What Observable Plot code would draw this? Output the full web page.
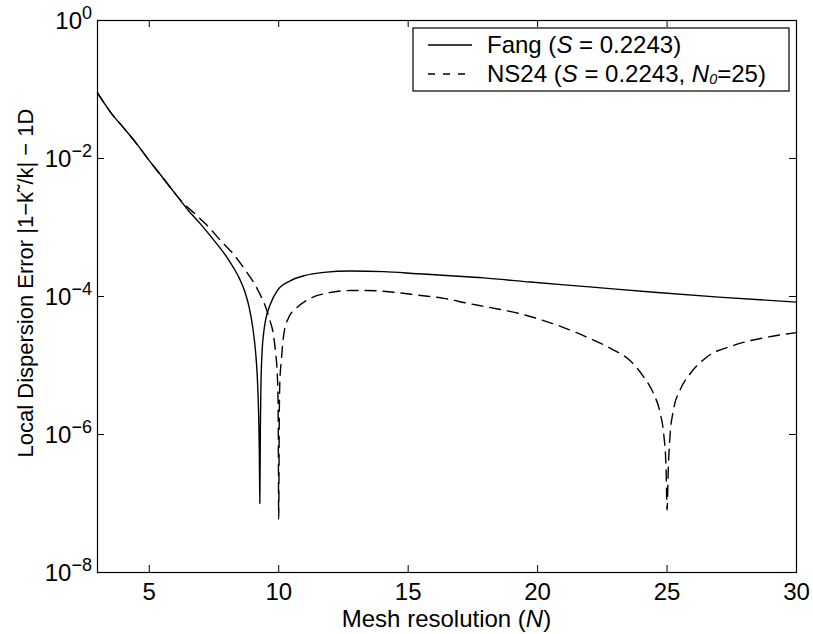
<!DOCTYPE html>
<html><head><meta charset="utf-8">
<script src="https://cdn.jsdelivr.net/npm/d3@7"></script>
<script src="https://cdn.jsdelivr.net/npm/@observablehq/plot@0.6"></script>
<style>
body{margin:0;background:#fff}
#chart svg{font-family:"Liberation Sans",Arial,Helvetica,sans-serif}
</style>
</head><body><div id="chart"></div>
<script>
// Fang (S = 0.2243)
const fangN = [3, 3.5, 4, 4.5, 5, 5.5, 6, 6.5, 7, 7.5, 8, 8.25, 8.5, 8.7, 8.85, 9.0, 9.1, 9.17, 9.22, 9.25, 9.27, 9.29, 9.31, 9.36, 9.42, 9.49, 9.68, 9.95, 10.46, 10.97, 11.74, 12.77, 14.06, 15.35, 16.63, 17.92, 19.72, 22, 24.5, 27, 30];
const fangErr = [0.089, 0.047, 0.028, 0.0166, 0.0093, 0.0054, 0.0031, 0.00178, 0.0011, 6.5e-4, 3.7e-4, 2.63e-4, 1.77e-4, 1.15e-4, 7.2e-5, 3.5e-5, 1.66e-5, 7.2e-6, 2.2e-6, 5.9e-7, 1.0e-7, 1.15e-6, 4.4e-6, 1.66e-5, 3.0e-5, 4.5e-5, 7.8e-5, 1.23e-4, 1.70e-4, 2.0e-4, 2.24e-4, 2.34e-4, 2.29e-4, 2.14e-4, 2.0e-4, 1.86e-4, 1.62e-4, 1.38e-4, 1.15e-4, 9.8e-5, 8.3e-5];
// NS24 (S = 0.2243, N0 = 25)
const nsN = [3, 3.5, 4, 4.5, 5, 5.5, 6, 6.27, 6.79, 7.31, 7.75, 8.23, 8.68, 9.17, 9.49, 9.66, 9.81, 9.87, 9.96, 9.98, 10.0, 10.02, 10.04, 10.10, 10.2, 10.39, 10.65, 11.1, 11.87, 12.77, 13.42, 14.45, 15.35, 16.38, 17.28, 18.18, 19.34, 20.62, 21.91, 22.8, 23.58, 24.1, 24.48, 24.74, 24.87, 24.96, 25.0, 25.05, 25.12, 25.24, 25.5, 25.89, 26.53, 27.56, 28.85, 30];
const nsErr = [0.089, 0.047, 0.028, 0.0166, 0.0093, 0.0054, 0.0031, 0.00234, 0.00155, 0.0010, 6.5e-4, 4.2e-4, 2.5e-4, 1.29e-4, 7.1e-5, 4.5e-5, 2.57e-5, 1.66e-5, 5.4e-6, 1.78e-6, 6e-8, 1.5e-6, 5.4e-6, 1.17e-5, 2.9e-5, 5.0e-5, 6.6e-5, 8.9e-5, 1.12e-4, 1.22e-4, 1.22e-4, 1.15e-4, 1.05e-4, 9.4e-5, 8.0e-5, 6.9e-5, 5.6e-5, 4.0e-5, 2.57e-5, 1.78e-5, 1.17e-5, 6.8e-6, 3.9e-6, 2.0e-6, 1.02e-6, 3.4e-7, 8e-8, 3.4e-7, 1.02e-6, 2.2e-6, 4.4e-6, 7.6e-6, 1.32e-5, 1.95e-5, 2.57e-5, 3.0e-5];

const xTicks = [5, 10, 15, 20, 25, 30];
const yTicks = [1, 1e-2, 1e-4, 1e-6, 1e-8];
const yTickExp = ["0", "\u22122", "\u22124", "\u22126", "\u22128"];
const xLabel = ["Mesh resolution (", "N", ")"];
const yLabel = "Local Dispersion Error |1\u2212k\u02DC/k| \u2212 1D";

const fang = fangN.map((n, i) => ({n, e: fangErr[i]}));
const ns = nsN.map((n, i) => ({n, e: nsErr[i]}));

const W = 813, H = 634, mL = 97, mR = 17, mT = 20, mB = 62;
const innerW = W - mL - mR, innerH = H - mT - mB, tl = 7;
const FS = 24;
const DASH = "11,7";

const plot = Plot.plot({
  width: W, height: H,
  marginLeft: mL, marginRight: mR, marginTop: mT, marginBottom: mB,
  style: {fontFamily: "Liberation Sans, Arial, sans-serif", fontSize: FS + "px", color: "#000", background: "#fff", overflow: "visible"},
  x: {domain: [3, 30]},
  y: {type: "log", domain: [1e-8, 1]},
  marks: [
    Plot.line(fang, {x: "n", y: "e", stroke: "#000", strokeWidth: 1.4, curve: "monotone-x"}),
    Plot.line(ns, {x: "n", y: "e", stroke: "#000", strokeWidth: 1.4, strokeDasharray: DASH, curve: "monotone-x"}),
    Plot.tickX(xTicks, {x: d => d, stroke: "#000", insetTop: innerH - tl}),
    Plot.tickX(xTicks, {x: d => d, stroke: "#000", insetBottom: innerH - tl}),
    Plot.tickY(yTicks, {y: d => d, stroke: "#000", insetRight: innerW - tl}),
    Plot.tickY(yTicks, {y: d => d, stroke: "#000", insetLeft: innerW - tl}),
    Plot.frame({stroke: "#000", strokeWidth: 1.2}),
    Plot.axisX(xTicks, {tickSize: 0, tickPadding: 10, label: null, tickFormat: d => String(d), fontSize: FS}),
    Plot.axisY(yTicks, {tickSize: 0, label: null, tickFormat: () => ""})
  ]
});
document.getElementById("chart").appendChild(plot);

const svg = d3.select(plot);
const ys = plot.scale("y"), xs = plot.scale("x");

// y tick labels 10^k
yTicks.forEach((v, i) => {
  const t = svg.append("text")
    .attr("x", mL - 5).attr("y", ys.apply(v) + 9)
    .attr("text-anchor", "end").attr("font-size", FS).attr("fill", "#000");
  t.append("tspan").text("10");
  t.append("tspan").attr("dy", "-0.55em").attr("font-size", FS * 0.75).text(yTickExp[i]);
});

// x label
const xl = svg.append("text").attr("x", (xs.apply(3) + xs.apply(30)) / 2).attr("y", 627)
  .attr("text-anchor", "middle").attr("font-size", FS).attr("fill", "#000");
xl.append("tspan").text(xLabel[0]);
xl.append("tspan").attr("font-style", "italic").text(xLabel[1]);
xl.append("tspan").text(xLabel[2]);

// y label
svg.append("text").attr("transform", `translate(33,283) rotate(-90)`)
  .attr("text-anchor", "middle").attr("font-size", 22).attr("fill", "#000").text(yLabel);

// legend
const lg = svg.append("g");
lg.append("rect").attr("x", 413).attr("y", 28).attr("width", 376).attr("height", 63)
  .attr("fill", "#fff").attr("stroke", "#000").attr("stroke-width", 1.2);
const rows = [
  {y: 45, dash: null, parts: [["Fang (", 0], ["S", 1], [" = 0.2243)", 0]]},
  {y: 74, dash: "7,8", parts: [["NS24 (", 0], ["S", 1], [" = 0.2243, ", 0], ["N", 1], ["0", 2], ["=25)", 0]]}
];
rows.forEach(r => {
  lg.append("line").attr("x1", 428).attr("x2", 472).attr("y1", r.y).attr("y2", r.y)
    .attr("stroke", "#000").attr("stroke-width", 1.4).attr("stroke-dasharray", r.dash);
  const t = lg.append("text").attr("x", 487).attr("y", r.y + 8).attr("text-anchor", "start")
    .attr("font-size", FS).attr("fill", "#000");
  r.parts.forEach(([s, k]) => {
    const sp = t.append("tspan").text(s);
    if (k >= 1) sp.attr("font-style", "italic");
    if (k === 2) sp.attr("font-size", FS * 0.6).attr("dy", "0.15em");
    if (k === 0 && s.startsWith("=")) sp.attr("dy", "-0.09em");
  });
});
</script>
</body></html>
